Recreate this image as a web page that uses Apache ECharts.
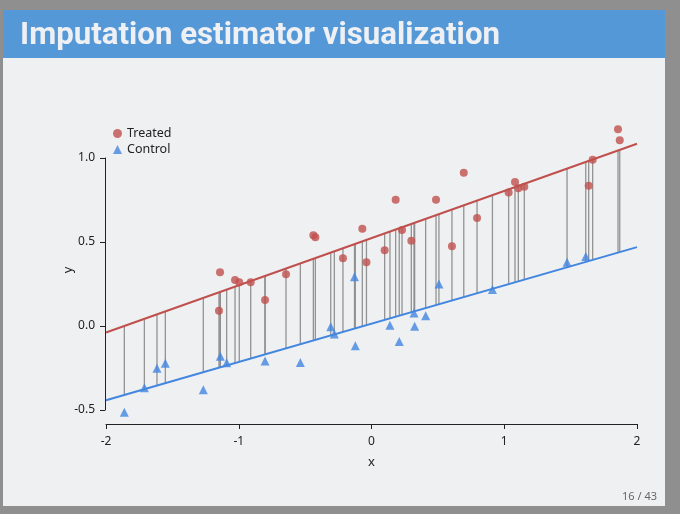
<!DOCTYPE html>
<html>
<head>
<meta charset="utf-8">
<script src="https://cdn.jsdelivr.net/npm/echarts@6/dist/echarts.min.js"></script>
<style>
  html, body { margin: 0; padding: 0; background: #8f8f8f; }
  #chart { width: 680px; height: 514px; }
</style>
</head>
<body>
<div id="chart"></div>
<script>
// treated units (red dots)
var treatedX = [-1.141, -1.149, -1.028, -0.996, -0.910, -0.802, -0.644, -0.438, -0.423, -0.215,
  -0.069, -0.038, 0.099, 0.182, 0.230, 0.300, 0.486, 0.606, 0.695, 0.795,
  1.033, 1.081, 1.106, 1.151, 1.636, 1.666, 1.857, 1.870];
var treatedY = [0.320, 0.091, 0.274, 0.260, 0.260, 0.155, 0.308, 0.540, 0.528, 0.403,
  0.579, 0.379, 0.451, 0.752, 0.571, 0.508, 0.752, 0.474, 0.912, 0.643,
  0.795, 0.857, 0.820, 0.829, 0.835, 0.990, 1.171, 1.105];

// control units (blue triangles)
var controlX = [-1.862, -1.711, -1.616, -1.553, -1.267, -1.139, -1.091, -0.802, -0.536, -0.307,
  -0.280, -0.128, -0.122, 0.139, 0.209, 0.320, 0.325, 0.408, 0.508, 0.911,
  1.473, 1.614];
var controlY = [-0.514, -0.367, -0.252, -0.222, -0.379, -0.180, -0.219, -0.208, -0.218, -0.004,
  -0.048, 0.293, -0.117, 0.005, -0.093, 0.077, -0.002, 0.061, 0.250, 0.217,
  0.379, 0.413];

// fitted lines: [intercept, slope]
var treatedFit = [0.523, 0.281];
var controlFit = [0.0136, 0.228];
var xRange = [-2, 2];

var xTicks = [-2, -1, 0, 1, 2];
var yTicks = [-0.5, 0, 0.5, 1.0];

var titleText = 'Imputation estimator visualization';

function fitAt(fit, x) { return fit[0] + fit[1] * x; }

var chart = echarts.init(document.getElementById('chart'));

var treatedPts = treatedX.map(function (x, i) { return [x, treatedY[i]]; });
var controlPts = controlX.map(function (x, i) { return [x, controlY[i]]; });
var allX = treatedX.concat(controlX);
var gapData = allX.map(function (x) { return [x, fitAt(treatedFit, x), fitAt(controlFit, x)]; });

var red = '#c0504d';
var blue = '#4286e0';
var font = 'Noto Sans';

// squeeze the title to look like the narrow slide font
var titleFont = 'bold 32px Roboto';
var cv = document.createElement('canvas').getContext('2d');
cv.font = titleFont;
var titleScale = 480 / cv.measureText(titleText).width;

var option = {
  backgroundColor: '#8f8f8f',
  animation: false,
  graphic: [
    { type: 'rect', silent: true, z: 0, shape: { x: 3, y: 10, width: 662, height: 496 },
      style: { fill: '#eef0f2' } },
    { type: 'rect', silent: true, z: 0, shape: { x: 3, y: 10, width: 662, height: 48 },
      style: { fill: '#5598d8' } },
    { type: 'text', silent: true, z: 1, x: 20, y: 36, scaleX: titleScale,
      style: { text: titleText, fill: '#eef0f3',
        font: titleFont, verticalAlign: 'middle', textAlign: 'left' } },
    { type: 'text', silent: true, z: 1, x: 657, y: 497,
      style: { text: '16 / 43', fill: '#666', font: '11px "Noto Sans"',
        textAlign: 'right', verticalAlign: 'middle' } },
    { type: 'text', silent: true, z: 1, x: 68, y: 270, rotation: Math.PI / 2,
      style: { text: 'y', fill: '#222', font: '13px "Noto Sans"',
        textAlign: 'center', verticalAlign: 'middle' } }
  ],
  legend: {
    orient: 'vertical',
    left: 108,
    top: 122,
    itemGap: 3,
    itemWidth: 9,
    itemHeight: 9,
    textStyle: { fontFamily: font, fontSize: 12.5, color: '#222' },
    data: ['Treated', 'Control']
  },
  grid: { left: 106, right: 43, top: 158, bottom: 104 },
  xAxis: {
    type: 'value',
    min: xRange[0], max: xRange[1], interval: 1,
    offset: 14,
    name: 'x', nameLocation: 'middle', nameGap: 32,
    nameTextStyle: { fontFamily: font, fontSize: 13, color: '#222' },
    axisLine: { show: true, onZero: false, lineStyle: { color: '#222', width: 1 } },
    axisTick: { show: true, length: 5, lineStyle: { color: '#222' } },
    axisLabel: { margin: 12, fontFamily: font, fontSize: 12, color: '#222',
      formatter: function (v) { return xTicks.indexOf(v) >= 0 ? String(v) : ''; } },
    splitLine: { show: false }
  },
  yAxis: {
    type: 'value',
    min: yTicks[0], max: yTicks[yTicks.length - 1], interval: 0.5,
    offset: 1,
    axisLine: { show: true, onZero: false, lineStyle: { color: '#222', width: 1 } },
    axisTick: { show: true, length: 5, lineStyle: { color: '#222' } },
    axisLabel: { margin: 10, fontFamily: font, fontSize: 12, color: '#222',
      formatter: function (v) { return v.toFixed(1); } },
    splitLine: { show: false }
  },
  series: [
    {
      type: 'custom',
      name: 'gap',
      silent: true,
      clip: false,
      z: 2,
      data: gapData,
      renderItem: function (params, api) {
        var p1 = api.coord([api.value(0), api.value(1)]);
        var p2 = api.coord([api.value(0), api.value(2)]);
        return {
          type: 'line',
          shape: { x1: p1[0], y1: p1[1], x2: p2[0], y2: p2[1] },
          style: { stroke: '#888888', lineWidth: 1.3, opacity: 0.9 }
        };
      }
    },
    {
      type: 'line',
      name: 'treatedFit',
      silent: true,
      clip: false,
      z: 3,
      symbol: 'none',
      lineStyle: { color: red, width: 2 },
      data: xRange.map(function (x) { return [x, fitAt(treatedFit, x)]; })
    },
    {
      type: 'line',
      name: 'controlFit',
      silent: true,
      clip: false,
      z: 3,
      symbol: 'none',
      lineStyle: { color: blue, width: 2 },
      data: xRange.map(function (x) { return [x, fitAt(controlFit, x)]; })
    },
    {
      type: 'scatter',
      name: 'Treated',
      clip: false,
      z: 4,
      symbol: 'circle',
      symbolSize: 8,
      itemStyle: { color: red },
      data: treatedPts
    },
    {
      type: 'scatter',
      name: 'Control',
      clip: false,
      z: 4,
      symbol: 'triangle',
      symbolSize: 9,
      itemStyle: { color: blue },
      data: controlPts
    }
  ]
};

chart.setOption(option);
</script>
</body>
</html>
